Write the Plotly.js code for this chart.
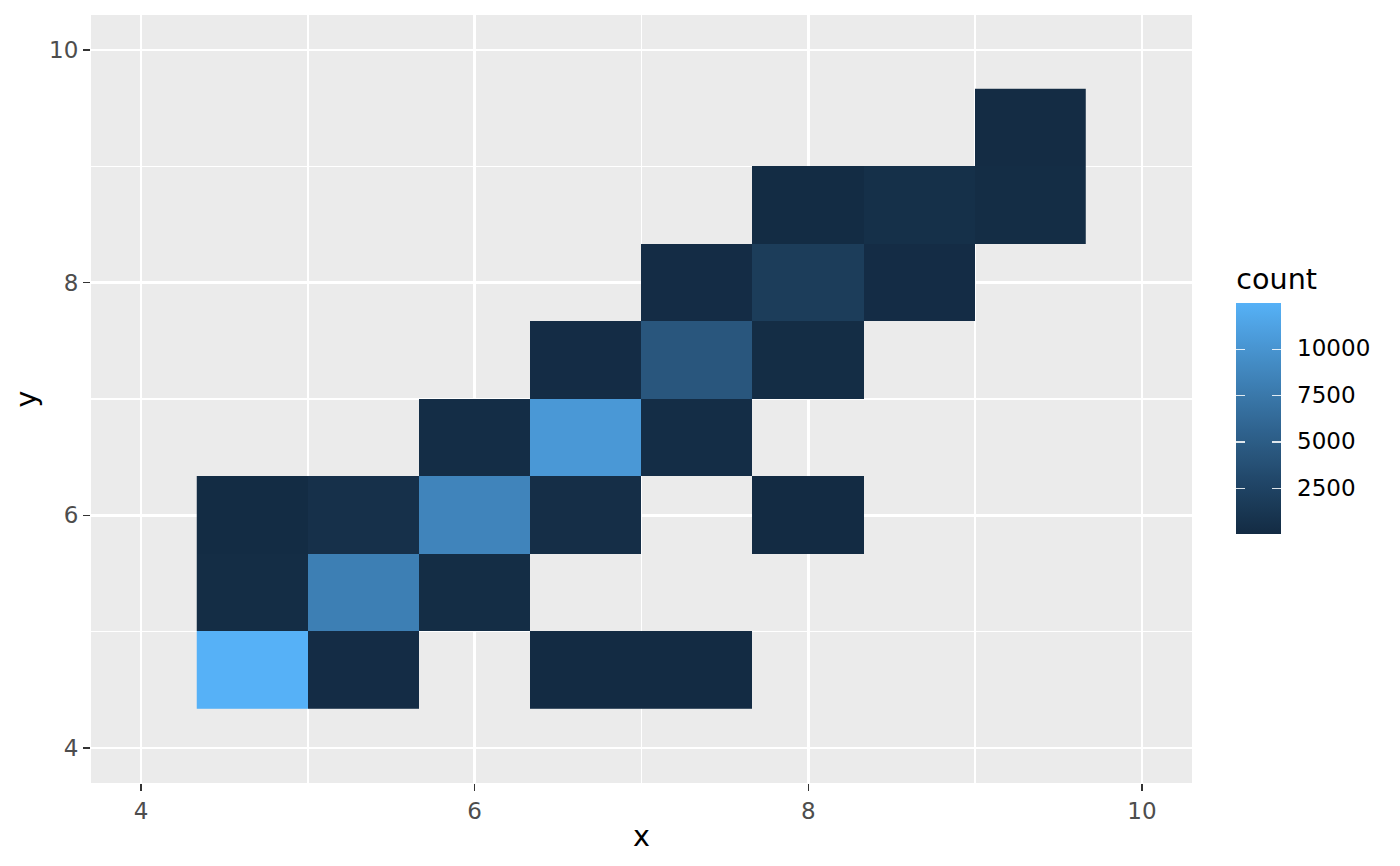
<!DOCTYPE html>
<html>
<head>
<meta charset="utf-8">
<script src="https://cdn.plot.ly/plotly-3.0.1.min.js"></script>
<style>html,body{margin:0;padding:0;background:#fff;}#chart{width:1400px;height:866px;}</style>
</head>
<body>
<div id="chart"></div>
<script>
// ---- data ----
var xCenters = [4.667, 5.333, 6, 6.667, 7.333, 8, 8.667, 9.333];
var yCenters = [4.667, 5.333, 6, 6.667, 7.333, 8, 8.667, 9.333];
// counts: one row per y bin (bottom to top), one column per x bin
var countRows = [
  [12430, 120, null, 6, 3, null, null, null],
  [180, 8090, 160, null, null, null, null, null],
  [60, 550, 8540, 320, null, 1, null, null],
  [null, null, 200, 10300, 220, null, null, null],
  [null, null, null, 150, 4320, 190, null, null],
  [null, null, null, null, 140, 1820, 130, null],
  [null, null, null, null, null, 90, 480, 160],
  [null, null, null, null, null, null, null, 110]
];
var axisTicks = [4, 6, 8, 10];
var barTickVals = [2500, 5000, 7500, 10000];
var barTickText = ['2500', '5000', '7500', '10000'];

// ---- colour scale: Lab interpolation low -> high (ggplot default) ----
function toLin(c){c/=255;return c<=0.04045?c/12.92:Math.pow((c+0.055)/1.055,2.4);}
function toS(c){var v=c<=0.0031308?12.92*c:1.055*Math.pow(c,1/2.4)-0.055;return Math.round(Math.max(0,Math.min(1,v))*255);}
function hexToLab(h){
  var r=toLin(parseInt(h.substr(1,2),16)),g=toLin(parseInt(h.substr(3,2),16)),b=toLin(parseInt(h.substr(5,2),16));
  var X=(0.4124*r+0.3576*g+0.1805*b)/0.95047,Y=0.2126*r+0.7152*g+0.0722*b,Z=(0.0193*r+0.1192*g+0.9505*b)/1.08883;
  function f(t){return t>0.008856?Math.cbrt(t):7.787*t+16/116;}
  return [116*f(Y)-16,500*(f(X)-f(Y)),200*(f(Y)-f(Z))];
}
function labToRgb(l){
  var fy=(l[0]+16)/116,fx=fy+l[1]/500,fz=fy-l[2]/200;
  function fi(t){var t3=t*t*t;return t3>0.008856?t3:(t-16/116)/7.787;}
  var X=fi(fx)*0.95047,Y=fi(fy),Z=fi(fz)*1.08883;
  var r=3.2406*X-1.5372*Y-0.4986*Z,g=-0.9689*X+1.8758*Y+0.0415*Z,b=0.0557*X-0.2040*Y+1.0570*Z;
  return 'rgb('+toS(r)+','+toS(g)+','+toS(b)+')';
}
var lo=hexToLab('#132B43'),hi=hexToLab('#56B1F7');
var cscale=[];
for(var i=0;i<=20;i++){var t=i/20;cscale.push([t,labToRgb([lo[0]+(hi[0]-lo[0])*t,lo[1]+(hi[1]-lo[1])*t,lo[2]+(hi[2]-lo[2])*t])]);}
var clear=[[0,'rgba(0,0,0,0)'],[1,'rgba(0,0,0,0)']];

var FONT='DejaVu Sans, sans-serif';
var PW=1100.4;                 // plot width in px
var cbX=(1236-91.3)/PW;        // left edge of colour bar
var cbXr=(1236+45-91.3)/PW;    // right edge of colour bar
var TICK='rgba(255,255,255,0.85)';

var main={
  type:'heatmap', x:xCenters, y:yCenters, z:countRows,
  colorscale:cscale, hoverinfo:'skip',
  colorbar:{
    x:cbX, xanchor:'left', xpad:0, ypad:0,
    y:0.4998, yanchor:'middle', len:270, lenmode:'pixels',
    thickness:45, thicknessmode:'pixels', outlinewidth:0,
    tickvals:barTickVals, ticktext:barTickText,
    ticks:'outside', ticklen:12, tickwidth:1, tickcolor:'rgba(0,0,0,0)',
    tickfont:{family:FONT,size:23,color:'#000'},
    title:{text:'count',side:'top',font:{family:FONT,size:28.6,color:'#000'}}
  }
};
// zero-thickness companion bars: white ticks on both edges of the colour bar
function tickBar(xpos, dir){
  return {
    type:'heatmap', x:xCenters, y:yCenters, z:countRows,
    colorscale:clear, opacity:0, hoverinfo:'skip',
    colorbar:{
      x:xpos, xanchor:'left', xpad:0, ypad:0,
      y:0.4734, yanchor:'middle', len:230, lenmode:'pixels',
      thickness:0, outlinewidth:0,
      tickvals:barTickVals, ticktext:barTickText, showticklabels:false,
      ticks:dir, ticklen:9, tickwidth:1.3, tickcolor:TICK
    }
  };
}

var axisCommon={
  tickvals:axisTicks, ticks:'outside', ticklen:7, tickwidth:1.6, tickcolor:'#333333',
  tickfont:{family:FONT,size:23,color:'#4D4D4D'},
  showgrid:true, gridcolor:'#FFFFFF', gridwidth:2.8,
  minor:{dtick:1, tick0:0, showgrid:true, gridcolor:'#FFFFFF', gridwidth:1.4, ticks:''},
  zeroline:false, showline:false, range:[3.7,10.3], autorange:false, fixedrange:true
};
var layout={
  width:1400, height:866,
  margin:{l:91.3, r:208.3, t:15, b:83.3, pad:0},
  paper_bgcolor:'#FFFFFF', plot_bgcolor:'#EBEBEB',
  font:{family:FONT},
  showlegend:false,
  xaxis:Object.assign({}, axisCommon, {title:{text:'x', standoff:3, font:{family:FONT,size:28.6,color:'#000'}}}),
  yaxis:Object.assign({}, axisCommon, {title:{text:'y', standoff:4, font:{family:FONT,size:28.6,color:'#000'}}})
};
Plotly.newPlot('chart',[main,tickBar(cbX,'outside'),tickBar(cbXr,'inside')],layout,{displayModeBar:false,staticPlot:true});
</script>
</body>
</html>
